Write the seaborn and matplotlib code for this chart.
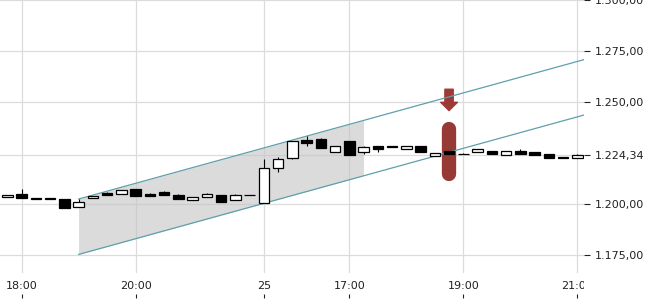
import matplotlib
matplotlib.use("Agg")
import matplotlib.pyplot as plt
from matplotlib.transforms import Bbox, TransformedBbox
import numpy as np
import pandas as pd
import seaborn as sns

# ---- data ----
opens = [1.2035, 1.2050, 1.2028, 1.2028, 1.2024, 1.1985, 1.2028, 1.2055, 1.2048, 1.2073,
         1.2050, 1.2059, 1.2045, 1.2022, 1.2036, 1.2043, 1.2019, 1.2043, 1.2007, 1.2176,
         1.2228, 1.2313, 1.2318, 1.2257, 1.2308, 1.2257, 1.2284, 1.2285, 1.2269, 1.2285,
         1.2238, 1.2262, 1.2245, 1.2254, 1.2259, 1.2240, 1.2262, 1.2254, 1.2248, 1.2231,
         1.2225]
highs = [1.2045, 1.2073, 1.2028, 1.2028, 1.2024, 1.2024, 1.2040, 1.2062, 1.2069, 1.2073,
         1.2055, 1.2066, 1.2050, 1.2033, 1.2055, 1.2043, 1.2051, 1.2043, 1.2222, 1.2231,
         1.2308, 1.2335, 1.2323, 1.2284, 1.2308, 1.2284, 1.2284, 1.2285, 1.2284, 1.2285,
         1.2250, 1.2262, 1.2253, 1.2269, 1.2259, 1.2262, 1.2269, 1.2254, 1.2248, 1.2231,
         1.2246]
lows = [1.2035, 1.2030, 1.2027, 1.2027, 1.1983, 1.1985, 1.2028, 1.2046, 1.2048, 1.2042,
        1.2041, 1.2046, 1.2027, 1.2022, 1.2036, 1.2012, 1.2019, 1.2043, 1.2007, 1.2159,
        1.2223, 1.2287, 1.2277, 1.2257, 1.2240, 1.2245, 1.2254, 1.2279, 1.2269, 1.2256,
        1.2238, 1.2248, 1.2244, 1.2254, 1.2248, 1.2240, 1.2248, 1.2243, 1.2225, 1.2225,
        1.2225]
closes = [1.2045, 1.2030, 1.2027, 1.2027, 1.1983, 1.2009, 1.2040, 1.2046, 1.2069, 1.2042,
          1.2041, 1.2046, 1.2027, 1.2033, 1.2048, 1.2012, 1.2043, 1.2043, 1.2176, 1.2220,
          1.2308, 1.2302, 1.2277, 1.2284, 1.2240, 1.2279, 1.2272, 1.2279, 1.2284, 1.2256,
          1.2250, 1.2248, 1.2244, 1.2269, 1.2248, 1.2262, 1.2248, 1.2243, 1.2225, 1.2225,
          1.22434]

xtick_pos = [1, 9, 18, 24, 32, 40]
xtick_labels = ["18:00", "20:00", "25", "17:00", "19:00", "21:00"]
ytick_vals = [1.175, 1.200, 1.22434, 1.250, 1.275, 1.300]
ytick_labels = ["1.175,00", "1.200,00", "1.224,34", "1.250,00", "1.275,00", "1.300,00"]

channel_x = [5, 40.5]
channel_upper = [1.2025, 1.2710]
channel_lower = [1.1753, 1.2438]
fill_x = [5, 25]
fill_upper = [1.2025, 1.2411]
fill_lower = [1.1753, 1.2139]

marker_idx = 31
marker_bar = [1.2146, 1.2369]
arrow_from, arrow_to = 1.2564, 1.2459

# ---- style ----
sns.set_style("white")
plt.rcParams["font.family"] = ["DejaVu Sans"]

fig = plt.figure(figsize=(6.5, 3), dpi=100)
ax = fig.add_axes([0, 27 / 300, 584 / 650, 273 / 300])

idx = np.arange(len(opens))
o = np.array(opens); c = np.array(closes)
h = np.array(highs); l = np.array(lows)

# channel fill
ax.fill_between(fill_x, fill_lower, fill_upper, color="#c4c4c4", alpha=0.6,
                linewidth=0, zorder=1)

# channel lines
df_ch = pd.DataFrame({"x": channel_x * 2,
                      "y": channel_upper + channel_lower,
                      "line": ["upper", "upper", "lower", "lower"]})
sns.lineplot(data=df_ch, x="x", y="y", units="line", estimator=None,
             color="#5fa0aa", linewidth=0.9, ax=ax, zorder=4)

# red marker
ax.plot([marker_idx, marker_idx], marker_bar, color="#973a35", linewidth=10.3,
        solid_capstyle="round", zorder=2)
ax.annotate("", xy=(marker_idx, arrow_to), xytext=(marker_idx, arrow_from),
            arrowprops=dict(arrowstyle="simple,head_width=1.2,head_length=0.6,tail_width=0.6",
                            color="#9e3a35", shrinkA=0, shrinkB=0, mutation_scale=10),
            zorder=2)

# candles
ax.vlines(idx, l, h, color="black", linewidth=0.8, zorder=5)
up = c >= o
body_bottom = np.minimum(o, c)
body_h = np.abs(c - o)
colors = np.where(up, "white", "black")
ax.bar(idx, body_h, bottom=body_bottom, width=0.74, color=colors,
       edgecolor="black", linewidth=0.9, zorder=6)

# axes
ax.set_xlim(-0.512, 40.47)
ax.set_ylim(1.1662, 1.3002)
ax.set_xticks(xtick_pos)
ax.set_xticklabels(xtick_labels)
ax.set_yticks(ytick_vals)
ax.set_yticklabels(ytick_labels)
ax.yaxis.tick_right()
ax.grid(True, color="#dcdcdc", linewidth=0.9)
ax.set_axisbelow(True)
for s in ax.spines.values():
    s.set_visible(False)
ax.set_xlabel(""); ax.set_ylabel("")
ax.tick_params(axis="y", length=4, width=0.8, pad=4, labelsize=8,
               colors="#222222", right=True, left=False)
ax.tick_params(axis="x", length=0, pad=6, labelsize=8, colors="#222222")

clip = TransformedBbox(Bbox([[0, 0], [584 / 650, 1]]), fig.transFigure)
for lbl in ax.get_xticklabels():
    lbl.set_clip_box(clip)
    lbl.set_clip_on(True)

sec = ax.secondary_xaxis(-0.077)
sec.set_xticks(xtick_pos)
sec.set_xticklabels([])
sec.tick_params(length=3, width=0.8, direction="out", colors="#222222")
for s in sec.spines.values():
    s.set_visible(False)

fig.savefig("out.png", dpi=100)
